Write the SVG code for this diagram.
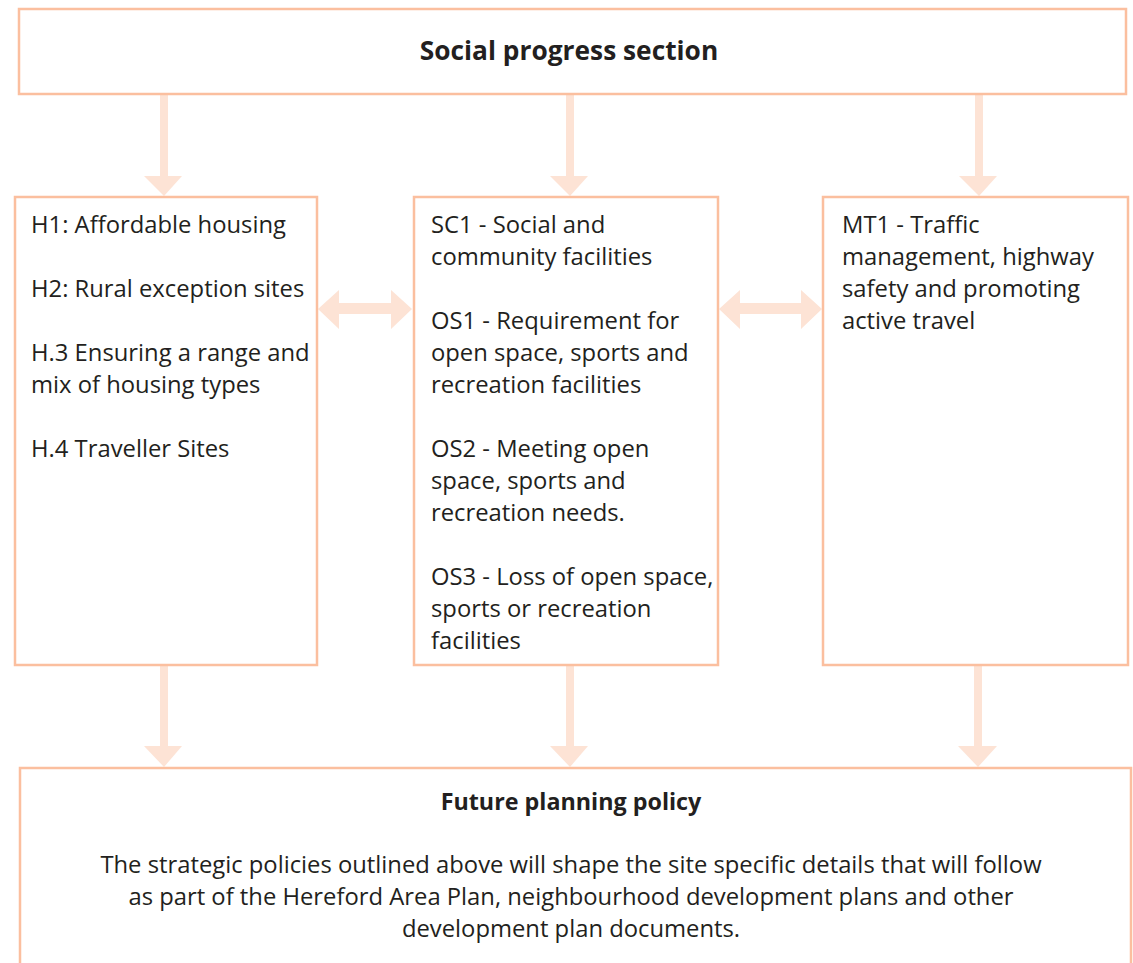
<svg xmlns="http://www.w3.org/2000/svg" width="1133" height="963" viewBox="0 0 1133 963">
<style>
.box{fill:#fff;stroke:#fbbf9f;stroke-width:2.5}
.arr{fill:#fde3d5}
text{font-family:"Open Sans","Noto Sans",sans-serif;fill:#231f20;font-size:23.8px}
.b{font-weight:bold}
.c{text-anchor:middle}
.t1{font-size:26.3px}
.t2{font-size:23.3px}
</style>
<rect width="1133" height="963" fill="#fff"/>
<g id="connectors">
<polygon class="arr" points="160,95 168,95 168,176 182,176 164,196 144,176 160,176"/>
<polygon class="arr" points="566,95 574,95 574,176 588,176 570,196 550,176 566,176"/>
<polygon class="arr" points="975,95 983,95 983,176 997,176 979,196 959,176 975,176"/>
<polygon class="arr" points="160,665 168,665 168,746 182,746 164,767 144,746 160,746"/>
<polygon class="arr" points="566,665 574,665 574,746 588,746 570,767 550,746 566,746"/>
<polygon class="arr" points="974,665 982,665 982,746 997,746 978,767 958,746 974,746"/>
<polygon class="arr" points="318,309 339,290 339,303 391,303 391,290 412,309 391,329 391,314 339,314 339,329"/>
<polygon class="arr" points="719,309 740,290 740,303 801,303 801,290 822,309 801,329 801,314 740,314 740,329"/>
</g>
<g id="top">
<rect class="box" x="19" y="9" width="1107" height="85"/>
<text class="b c t1" x="569" y="60">Social progress section</text>
</g>
<g id="housing">
<rect class="box" x="15" y="197" width="302" height="468"/>
<text x="31" y="233">H1: Affordable housing</text>
<text x="31" y="297">H2: Rural exception sites</text>
<text x="31" y="361">H.3 Ensuring a range and</text>
<text x="31" y="393">mix of housing types</text>
<text x="31" y="457">H.4 Traveller Sites</text>
</g>
<g id="social">
<rect class="box" x="414" y="197" width="304" height="468"/>
<text x="431" y="233">SC1 - Social and</text>
<text x="431" y="265">community facilities</text>
<text x="431" y="329">OS1 - Requirement for</text>
<text x="431" y="361">open space, sports and</text>
<text x="431" y="393">recreation facilities</text>
<text x="431" y="457">OS2 - Meeting open</text>
<text x="431" y="489">space, sports and</text>
<text x="431" y="521">recreation needs.</text>
<text x="431" y="585">OS3 - Loss of open space,</text>
<text x="431" y="617">sports or recreation</text>
<text x="431" y="649">facilities</text>
</g>
<g id="traffic">
<rect class="box" x="823" y="197" width="305" height="468"/>
<text x="842" y="233">MT1 - Traffic</text>
<text x="842" y="265">management, highway</text>
<text x="842" y="297">safety and promoting</text>
<text x="842" y="329">active travel</text>
</g>
<g id="future">
<path class="box" d="M20,963 V768 H1131 V963" fill="#fff"/>
<text class="b c t2" x="571" y="810">Future planning policy</text>
<text class="c" x="571" y="873">The strategic policies outlined above will shape the site specific details that will follow</text>
<text class="c" x="571" y="905">as part of the Hereford Area Plan, neighbourhood development plans and other</text>
<text class="c" x="571" y="937">development plan documents.</text>
</g>
</svg>
